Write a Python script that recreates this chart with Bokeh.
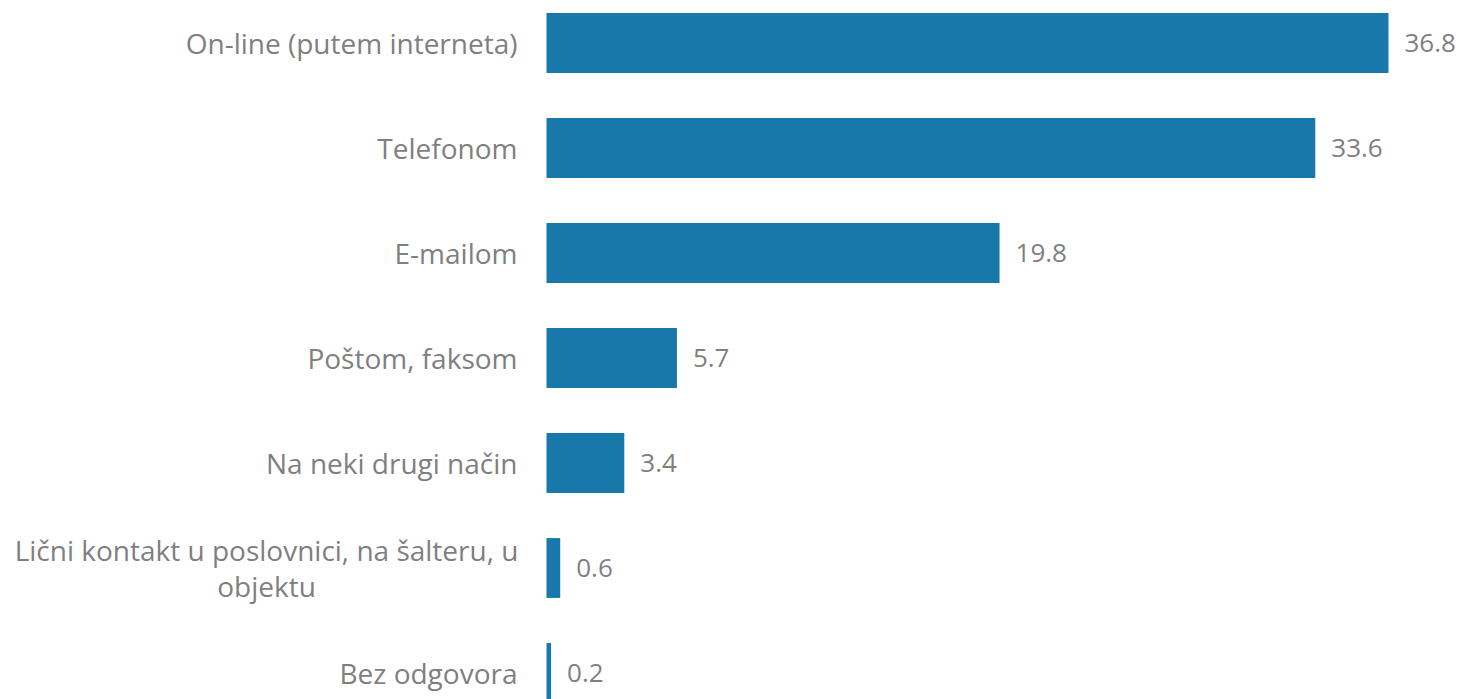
from bokeh.plotting import figure
from bokeh.models import ColumnDataSource, Range1d
from bokeh.core.properties import value
from bokeh.embed import file_html
from bokeh.resources import INLINE

categories = [
    "On-line (putem interneta)",
    "Telefonom",
    "E-mailom",
    "Poštom, faksom",
    "Na neki drugi način",
    "Lični kontakt u poslovnici, na šalteru, u\nobjektu",
    "Bez odgovora",
]
values = [36.8, 33.6, 19.8, 5.7, 3.4, 0.6, 0.2]

W, H = 1462, 699
px_per_unit = 22.88
frame_left_px = 546  # where value 0 sits inside the figure
band_px = 105.0
first_center_px = 42.5
label_gap = 29
multiline_width = 502  # estimated width of the first line of a wrapped label

x_start = -frame_left_px / px_per_unit
x_end = (W - frame_left_px) / px_per_unit
y_top = -first_center_px / band_px
y_bottom = y_top + H / band_px

pos = list(range(len(categories)))
aligns = ["center" if "\n" in c else "right" for c in categories]
offsets = [-(label_gap + multiline_width / 2) if "\n" in c else -label_gap
           for c in categories]
src = ColumnDataSource(dict(
    y=pos, v=values, cat=categories,
    lbl=[f"{v:.1f}" for v in values],
    zero=[0] * len(values),
    align=aligns, xo=offsets,
))

p = figure(width=W, height=H, output_backend="svg", toolbar_location=None,
           x_range=Range1d(x_start, x_end), y_range=Range1d(y_bottom, y_top),
           min_border=0, min_border_left=0, min_border_right=0,
           min_border_top=0, min_border_bottom=0)
p.outline_line_color = None
p.xgrid.visible = False
p.ygrid.visible = False
p.xaxis.visible = False
p.yaxis.visible = False
p.background_fill_color = "white"
p.border_fill_color = "white"

p.hbar(y="y", left="zero", right="v", height=0.57, source=src,
       fill_color="#1778A9", line_color=None)

grey = "#7F7F7F"
font = value("Open Sans")
p.text(x="v", y="y", text="lbl", source=src, x_offset=16,
       text_align="left", text_baseline="middle",
       text_font=font, text_font_size="26px", text_color=grey)
p.text(x="zero", y="y", text="cat", source=src, x_offset="xo",
       text_align="align", text_baseline="middle", text_line_height=0.95,
       text_font=font, text_font_size="28px", text_color=grey)

open("out.html", "w").write(file_html(p, INLINE))
